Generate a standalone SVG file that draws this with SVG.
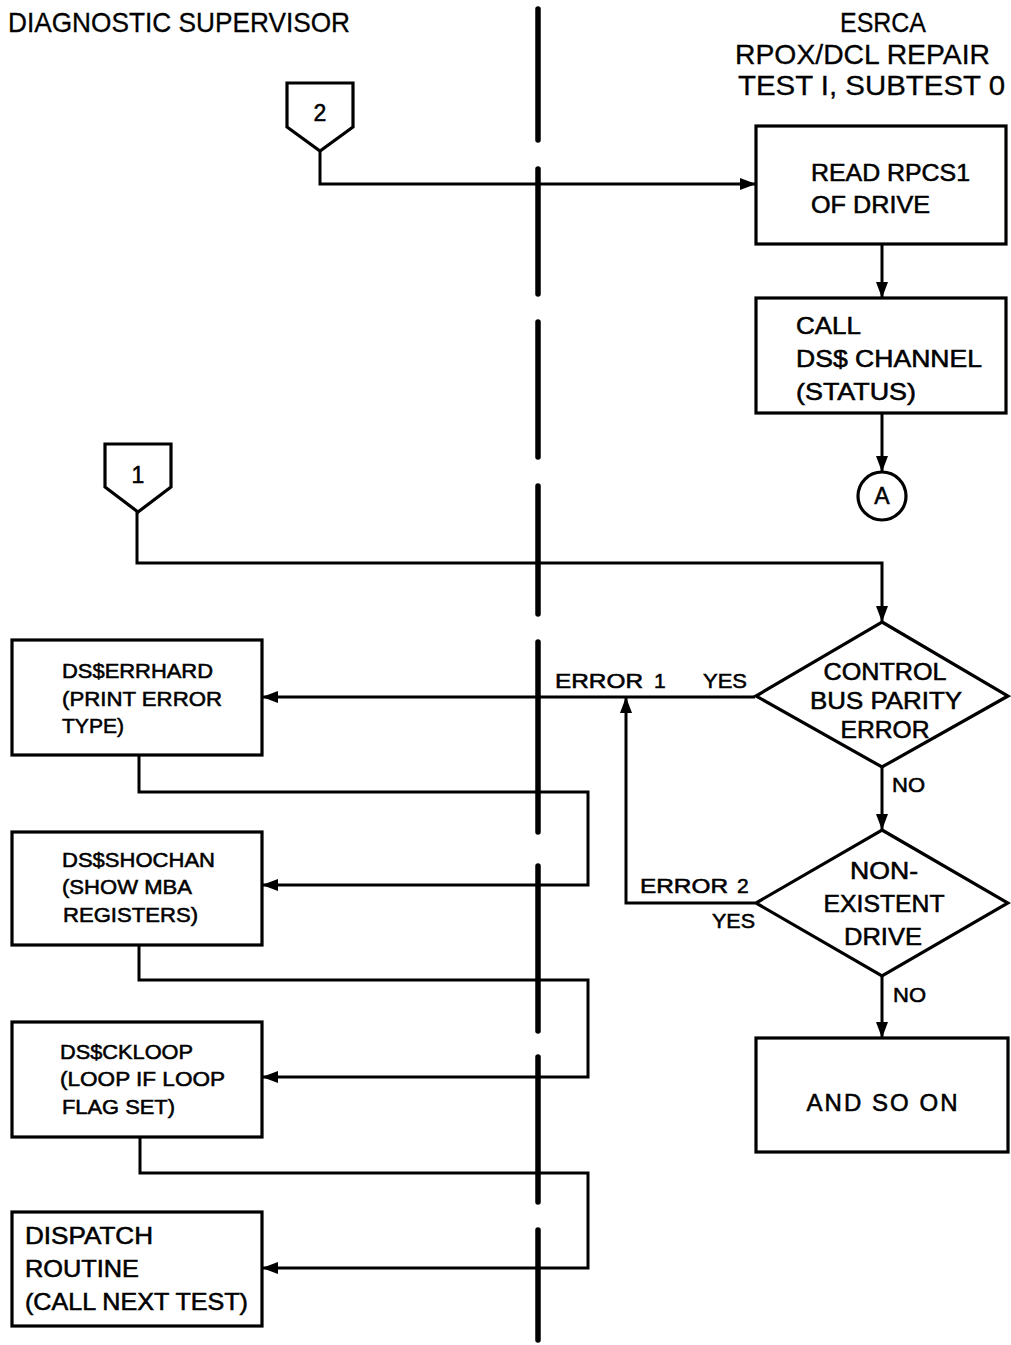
<svg xmlns="http://www.w3.org/2000/svg" width="1011" height="1345" viewBox="0 0 1011 1345">
  <defs>
    <marker id="arrow" viewBox="0 0 16 12" refX="16" refY="6" markerWidth="16" markerHeight="12" markerUnits="userSpaceOnUse" orient="auto">
      <path d="M0,0 L16,6 L0,12 Z" fill="#000"/>
    </marker>
    <style>
      .box { fill: #fff; stroke: #000; stroke-width: 3.2; }
      .conn { fill: none; stroke: #000; stroke-width: 3; }
      .divider { stroke: #000; stroke-width: 5.5; stroke-linecap: round; }
      text { font-family: "Liberation Sans", Arial, sans-serif; fill: #000; stroke: #000; stroke-width: 0.55; }
      .hdr { font-size: 28px; stroke-width: 0.3; }
      .lbl { font-size: 24px; }
      .sm { font-size: 21px; }
      .num { font-size: 23px; }
      .mid { text-anchor: middle; }
    </style>
  </defs>
  <rect width="1011" height="1345" fill="#fff"/>

  <!-- swimlane divider -->
  <g id="divider">
    <line class="divider" x1="538" y1="9" x2="538" y2="140"/>
    <line class="divider" x1="538" y1="169" x2="538" y2="294"/>
    <line class="divider" x1="538" y1="322" x2="538" y2="457"/>
    <line class="divider" x1="538" y1="486" x2="538" y2="614"/>
    <line class="divider" x1="538" y1="642" x2="538" y2="832"/>
    <line class="divider" x1="538" y1="866" x2="538" y2="1031"/>
    <line class="divider" x1="538" y1="1057" x2="538" y2="1202"/>
    <line class="divider" x1="538" y1="1230" x2="538" y2="1340"/>
  </g>

  <!-- lane headings -->
  <g id="headings">
    <text class="hdr" x="8" y="32" textLength="342" lengthAdjust="spacingAndGlyphs">DIAGNOSTIC SUPERVISOR</text>
    <text class="hdr" x="840" y="32" textLength="86" lengthAdjust="spacingAndGlyphs">ESRCA</text>
    <text class="hdr" x="735" y="64" textLength="255" lengthAdjust="spacingAndGlyphs">RPOX/DCL REPAIR</text>
    <text class="hdr" x="738" y="95" textLength="267" lengthAdjust="spacingAndGlyphs">TEST I, SUBTEST 0</text>
  </g>

  <!-- connectors -->
  <g id="connectors">
    <polyline class="conn" points="320,151 320,184 756,184" marker-end="url(#arrow)"/>
    <line class="conn" x1="882" y1="244" x2="882" y2="298" marker-end="url(#arrow)"/>
    <line class="conn" x1="882" y1="413" x2="882" y2="472" marker-end="url(#arrow)"/>
    <polyline class="conn" points="137,512 137,563 882,563 882,622" marker-end="url(#arrow)"/>
    <line class="conn" x1="755" y1="697" x2="262" y2="697" marker-end="url(#arrow)"/>
    <line class="conn" x1="882" y1="767" x2="882" y2="830" marker-end="url(#arrow)"/>
    <polyline class="conn" points="755,903 626,903 626,697" marker-end="url(#arrow)"/>
    <line class="conn" x1="882" y1="976" x2="882" y2="1038" marker-end="url(#arrow)"/>
    <polyline class="conn" points="139,755 139,792 588,792 588,885 262,885" marker-end="url(#arrow)"/>
    <polyline class="conn" points="139,945 139,980 588,980 588,1077 262,1077" marker-end="url(#arrow)"/>
    <polyline class="conn" points="140,1137 140,1173 588,1173 588,1268 262,1268" marker-end="url(#arrow)"/>
  </g>

  <!-- connector labels -->
  <g id="conn-labels">
    <text class="sm" x="555" y="688" textLength="88" lengthAdjust="spacingAndGlyphs">ERROR</text>
    <text class="sm" x="654" y="688">1</text>
    <text class="sm" x="703" y="688" textLength="44" lengthAdjust="spacingAndGlyphs">YES</text>
    <text class="sm" x="892" y="792" textLength="33" lengthAdjust="spacingAndGlyphs">NO</text>
    <text class="sm" x="640" y="893" textLength="88" lengthAdjust="spacingAndGlyphs">ERROR</text>
    <text class="sm" x="737" y="893">2</text>
    <text class="sm" x="712" y="928" textLength="43" lengthAdjust="spacingAndGlyphs">YES</text>
    <text class="sm" x="893" y="1002" textLength="33" lengthAdjust="spacingAndGlyphs">NO</text>
  </g>

  <!-- off-page connector 2 -->
  <g id="offpage-2">
    <polygon class="box" points="287,83 353,83 353,127 320,151 287,127"/>
    <text class="num mid" x="320" y="121">2</text>
  </g>

  <!-- off-page connector 1 -->
  <g id="offpage-1">
    <polygon class="box" points="105,444 171,444 171,487 138,512 105,487"/>
    <text class="num mid" x="138" y="483">1</text>
  </g>

  <g id="read-rpcs1">
    <rect class="box" x="756" y="126" width="250" height="118"/>
    <text class="lbl" x="811" y="181" textLength="159" lengthAdjust="spacingAndGlyphs">READ RPCS1</text>
    <text class="lbl" x="811" y="213" textLength="119" lengthAdjust="spacingAndGlyphs">OF DRIVE</text>
  </g>

  <g id="call-channel">
    <rect class="box" x="756" y="298" width="250" height="115"/>
    <text class="lbl" x="796" y="334" textLength="65" lengthAdjust="spacingAndGlyphs">CALL</text>
    <text class="lbl" x="796" y="367" textLength="186" lengthAdjust="spacingAndGlyphs">DS$ CHANNEL</text>
    <text class="lbl" x="796" y="400" textLength="120" lengthAdjust="spacingAndGlyphs">(STATUS)</text>
  </g>

  <g id="connector-a">
    <circle class="box" cx="882" cy="496" r="24"/>
    <text class="num mid" x="882" y="504">A</text>
  </g>

  <g id="bus-parity">
    <polygon class="box" points="882,622 1008,696 882,767 756,696"/>
    <text class="lbl mid" x="885" y="680" textLength="123" lengthAdjust="spacingAndGlyphs">CONTROL</text>
    <text class="lbl mid" x="886" y="709" textLength="152" lengthAdjust="spacingAndGlyphs">BUS PARITY</text>
    <text class="lbl mid" x="885" y="738" textLength="89" lengthAdjust="spacingAndGlyphs">ERROR</text>
  </g>

  <g id="nonexistent-drive">
    <polygon class="box" points="882,830 1008,903 882,976 756,903"/>
    <text class="lbl mid" x="884" y="879" textLength="68" lengthAdjust="spacingAndGlyphs">NON-</text>
    <text class="lbl mid" x="884" y="912" textLength="121" lengthAdjust="spacingAndGlyphs">EXISTENT</text>
    <text class="lbl mid" x="883" y="945" textLength="78" lengthAdjust="spacingAndGlyphs">DRIVE</text>
  </g>

  <g id="and-so-on">
    <rect class="box" x="756" y="1038" width="252" height="114"/>
    <text class="lbl mid" x="882" y="1111" textLength="151" lengthAdjust="spacing">AND SO ON</text>
  </g>

  <g id="errhard">
    <rect class="box" x="12" y="640" width="250" height="115"/>
    <text class="sm" x="62" y="678" textLength="151" lengthAdjust="spacingAndGlyphs">DS$ERRHARD</text>
    <text class="sm" x="62" y="706" textLength="160" lengthAdjust="spacingAndGlyphs">(PRINT ERROR</text>
    <text class="sm" x="62" y="733" textLength="62" lengthAdjust="spacingAndGlyphs">TYPE)</text>
  </g>

  <g id="shochan">
    <rect class="box" x="12" y="832" width="250" height="113"/>
    <text class="sm" x="62" y="867" textLength="153" lengthAdjust="spacingAndGlyphs">DS$SHOCHAN</text>
    <text class="sm" x="62" y="894" textLength="130" lengthAdjust="spacingAndGlyphs">(SHOW MBA</text>
    <text class="sm" x="63" y="922" textLength="135" lengthAdjust="spacingAndGlyphs">REGISTERS)</text>
  </g>

  <g id="ckloop">
    <rect class="box" x="12" y="1022" width="250" height="115"/>
    <text class="sm" x="60" y="1059" textLength="133" lengthAdjust="spacingAndGlyphs">DS$CKLOOP</text>
    <text class="sm" x="60" y="1086" textLength="165" lengthAdjust="spacingAndGlyphs">(LOOP IF LOOP</text>
    <text class="sm" x="62" y="1114" textLength="113" lengthAdjust="spacingAndGlyphs">FLAG SET)</text>
  </g>

  <g id="dispatch">
    <rect class="box" x="12" y="1212" width="250" height="114"/>
    <text class="lbl" x="25" y="1244" textLength="128" lengthAdjust="spacingAndGlyphs">DISPATCH</text>
    <text class="lbl" x="25" y="1277" textLength="114" lengthAdjust="spacingAndGlyphs">ROUTINE</text>
    <text class="lbl" x="25" y="1310" textLength="223" lengthAdjust="spacingAndGlyphs">(CALL NEXT TEST)</text>
  </g>
</svg>
